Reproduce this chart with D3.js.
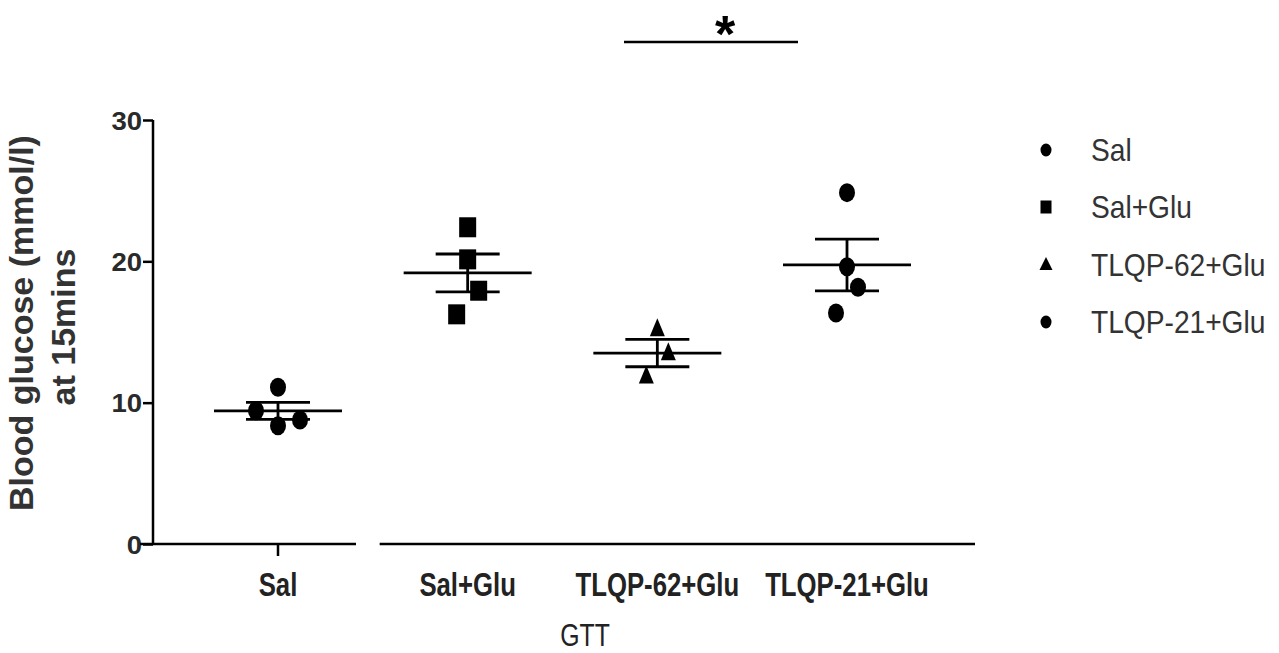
<!DOCTYPE html>
<html>
<head>
<meta charset="utf-8">
<script src="https://cdn.jsdelivr.net/npm/d3@7"></script>
<style>
  html, body { margin: 0; padding: 0; background: #fff; }
  svg { display: block; }
  text { font-family: "Liberation Sans", Arial, sans-serif; }
</style>
</head>
<body>
<svg id="chart" width="1279" height="653"></svg>
<script>
// ---- data ----
const categories = ["Sal", "Sal+Glu", "TLQP-62+Glu", "TLQP-21+Glu"];
const salValues    = [9.43, 11.09, 8.37, 8.77];
const salGluValues = [22.41, 20.14, 17.92, 16.25];
const tlqp62Values = [15.19, 13.49, 11.84];
const tlqp21Values = [24.86, 19.62, 18.16, 16.34];
// jitter slot for each point (GraphPad-style column spread)
const salSlots    = [-2, 0, 0, 2];
const salGluSlots = [0, 0, 1, -1];
const tlqp62Slots = [0, 1, -1];
const tlqp21Slots = [0, 0, 1, -1];
const shapes = ["circle", "square", "triangle", "circle"];
const yTicks = [0, 10, 20, 30];
const yTitle = ["Blood glucose (mmol/l)", "at 15mins"];
const xTitle = "GTT";
const sigLabel = "*";

const groups = [
  { name: categories[0], values: salValues,    slots: salSlots,    shape: shapes[0] },
  { name: categories[1], values: salGluValues, slots: salGluSlots, shape: shapes[1] },
  { name: categories[2], values: tlqp62Values, slots: tlqp62Slots, shape: shapes[2] },
  { name: categories[3], values: tlqp21Values, slots: tlqp21Slots, shape: shapes[3] }
];

const svg = d3.select("#chart");
const x = d3.scalePoint().domain(categories).range([278, 847]);
const y = d3.scaleLinear().domain([0, 30]).range([544, 120]);
const slotW = 11;

function marker(sel, shape, w, h) {
  if (shape === "circle") {
    sel.append("ellipse").attr("rx", w / 2).attr("ry", h / 2).attr("fill", "#000");
  } else if (shape === "square") {
    sel.append("rect").attr("x", -w / 2).attr("y", -h / 2).attr("width", w).attr("height", h).attr("fill", "#000");
  } else {
    sel.append("path").attr("d", `M0,${-h * 0.62}L${w / 2},${h * 0.38}L${-w / 2},${h * 0.38}Z`).attr("fill", "#000");
  }
}

// ---- y axis ----
const yAxis = svg.append("g").attr("transform", "translate(153,0)")
  .call(d3.axisLeft(y).tickValues(yTicks).tickSize(10).tickPadding(0).tickFormat(d3.format("d")));
yAxis.select(".domain").attr("d", `M0,${y(30)}V${y(0)}`).attr("stroke", "#000").attr("stroke-width", 2.5);
yAxis.selectAll(".tick line").attr("stroke", "#000").attr("stroke-width", 2.5);
yAxis.selectAll(".tick text").remove();
yAxis.selectAll(".tick").append("text")
  .attr("transform", "translate(-11,9) scale(1.1,1)")
  .attr("text-anchor", "end")
  .attr("font-size", 25).attr("font-weight", "bold").attr("fill", "#2a2a2a")
  .text(d => d);

// ---- x axis (broken) ----
const xAxisY = y(0);
svg.append("line").attr("x1", 140).attr("x2", x(categories[0]) + 78)
  .attr("y1", xAxisY).attr("y2", xAxisY).attr("stroke", "#000").attr("stroke-width", 2.5);
svg.append("line").attr("x1", x(categories[1]) - 88).attr("x2", x(categories[3]) + 128)
  .attr("y1", xAxisY).attr("y2", xAxisY).attr("stroke", "#000").attr("stroke-width", 2.5);
svg.append("line").attr("x1", x(categories[0])).attr("x2", x(categories[0]))
  .attr("y1", xAxisY).attr("y2", xAxisY + 12).attr("stroke", "#000").attr("stroke-width", 2.5);

svg.selectAll(".xlab").data(categories).enter().append("text")
  .attr("class", "xlab")
  .attr("transform", d => `translate(${x(d)},596) scale(0.78,1)`)
  .attr("text-anchor", "middle")
  .attr("font-size", 33).attr("font-weight", "bold").attr("fill", "#222")
  .text(d => d);

svg.append("text")
  .attr("transform", "translate(585,646) scale(0.8,1)")
  .attr("text-anchor", "middle").attr("font-size", 31).attr("fill", "#222")
  .text(xTitle);

// ---- y title ----
svg.append("text")
  .attr("transform", "translate(33,323) rotate(-90)")
  .attr("text-anchor", "middle").attr("font-size", 34).attr("font-weight", "bold").attr("fill", "#333")
  .text(yTitle[0]);
svg.append("text")
  .attr("transform", "translate(75,327) rotate(-90)")
  .attr("text-anchor", "middle").attr("font-size", 34).attr("font-weight", "bold").attr("fill", "#333")
  .text(yTitle[1]);

// ---- groups: mean and SEM, points ----
groups.forEach(g => {
  const cx = x(g.name);
  const m = d3.mean(g.values);
  const sem = d3.deviation(g.values) / Math.sqrt(g.values.length);
  const gg = svg.append("g");
  gg.append("line").attr("x1", cx - 64).attr("x2", cx + 64).attr("y1", y(m)).attr("y2", y(m))
    .attr("stroke", "#000").attr("stroke-width", 2.8);
  [m + sem, m - sem].forEach(v => {
    gg.append("line").attr("x1", cx - 32).attr("x2", cx + 32).attr("y1", y(v)).attr("y2", y(v))
      .attr("stroke", "#000").attr("stroke-width", 2.8);
  });
  gg.append("line").attr("x1", cx).attr("x2", cx).attr("y1", y(m + sem)).attr("y2", y(m - sem))
    .attr("stroke", "#000").attr("stroke-width", 2.8);

  g.values.forEach((v, i) => {
    const p = svg.append("g").attr("transform", `translate(${cx + g.slots[i] * slotW},${y(v)})`);
    if (g.shape === "circle") marker(p, "circle", 16, 19);
    else if (g.shape === "square") marker(p, "square", 17, 20);
    else marker(p, "triangle", 15, 18);
  });
});

// ---- significance bracket ----
svg.append("line").attr("x1", 624).attr("x2", 798).attr("y1", 42).attr("y2", 42)
  .attr("stroke", "#000").attr("stroke-width", 2.5);
svg.append("text").attr("x", 725).attr("y", 52)
  .attr("text-anchor", "middle").attr("font-size", 52).attr("font-weight", "bold")
  .attr("font-family", "'Liberation Serif', 'Times New Roman', serif")
  .attr("fill", "#000").text(sigLabel);

// ---- legend ----
const legendY = [150, 207, 265, 322];
categories.forEach((c, i) => {
  const lg = svg.append("g").attr("transform", `translate(1046,${legendY[i]})`);
  if (shapes[i] === "circle") marker(lg, "circle", 11, 13);
  else if (shapes[i] === "square") marker(lg, "square", 11, 13);
  else marker(lg, "triangle", 13, 13);
  svg.append("text")
    .attr("transform", `translate(1091,${legendY[i] + 11}) scale(0.88,1)`)
    .attr("font-size", 32).attr("fill", "#333")
    .text(c);
});
</script>
</body>
</html>
